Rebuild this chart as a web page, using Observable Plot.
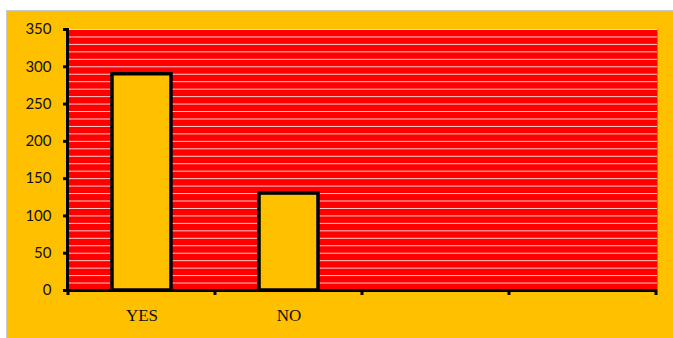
<!DOCTYPE html>
<html>
<head>
<meta charset="utf-8">
<script src="https://cdn.jsdelivr.net/npm/d3@7"></script>
<script src="https://cdn.jsdelivr.net/npm/@observablehq/plot@0.6"></script>
<style>
  html, body { margin: 0; padding: 0; background: #ffffff; }
  #box {
    position: absolute; left: 6px; top: 10px;
    width: 700px; height: 340px;
    background: #FFC000;
    border-left: 1px solid #c8c8c8; border-top: 1px solid #c8c8c8;
  }
  #box svg { display: block; background: transparent; }
</style>
</head>
<body>
<div id="box"></div>
<script>
// ---- data ----
const categories = ["YES", "NO", "slot3", "slot4"];
const xTickLabels = ["YES", "NO", "", ""];
const barCategories = ["YES", "NO"];
const barValues = [290, 130];
const yTicks = [0, 50, 100, 150, 200, 250, 300, 350];
const gridValues = d3.range(10, 351, 10);

const data = barCategories.map((c, i) => ({cat: c, value: barValues[i]}));
const labelOf = new Map(categories.map((c, i) => [c, xTickLabels[i]]));

const W = 666, H = 327;
const mL = 60, mR = 16, mT = 18, mB = 48;

// ticks at the category band boundaries
const boundaryTicks = (index, scales, values, dims) => {
  const x = scales.x;
  const bw = (x.bandwidth ? x.bandwidth() : (dims.width - dims.marginLeft - dims.marginRight) / categories.length);
  const xs = categories.map(c => x(c));
  xs.push(xs[xs.length - 1] + bw);
  const y0 = dims.height - dims.marginBottom;
  const g = d3.create("svg:g");
  g.selectAll("line").data(xs).join("line")
    .attr("x1", d => d).attr("x2", d => d)
    .attr("y1", y0).attr("y2", y0 + 5)
    .attr("stroke", "black").attr("stroke-width", 3);
  return g.node();
};

const chart = Plot.plot({
  width: W, height: H,
  marginLeft: mL, marginRight: mR, marginTop: mT, marginBottom: mB,
  style: {background: "transparent", overflow: "visible"},
  x: {type: "band", domain: categories, padding: 0},
  y: {domain: [0, 350]},
  marks: [
    Plot.frame({fill: "#FF0000", stroke: "none"}),
    Plot.ruleY(gridValues, {stroke: "white", strokeOpacity: 0.8, strokeWidth: 1}),
    Plot.barY(data, {x: "cat", y: "value", fill: "#FFC000", stroke: "black", strokeWidth: 3.5, insetLeft: 44, insetRight: 44}),
    Plot.ruleY([0], {stroke: "black", strokeWidth: 3}),
    Plot.frame({anchor: "left", stroke: "black", strokeWidth: 3}),
    Plot.axisY({ticks: yTicks, tickSize: 4, strokeWidth: 3, tickPadding: 12, label: null,
      fontSize: 15, fontFamily: "Lato, 'Open Sans', sans-serif", fill: "#111"}),
    Plot.axisX({tickSize: 0, tickPadding: 18, label: null, tickFormat: d => labelOf.get(d),
      fontSize: 17, fontFamily: "'Liberation Serif', 'DejaVu Serif', serif", fill: "#111"}),
    boundaryTicks
  ]
});
document.getElementById("box").appendChild(chart);
</script>
</body>
</html>
